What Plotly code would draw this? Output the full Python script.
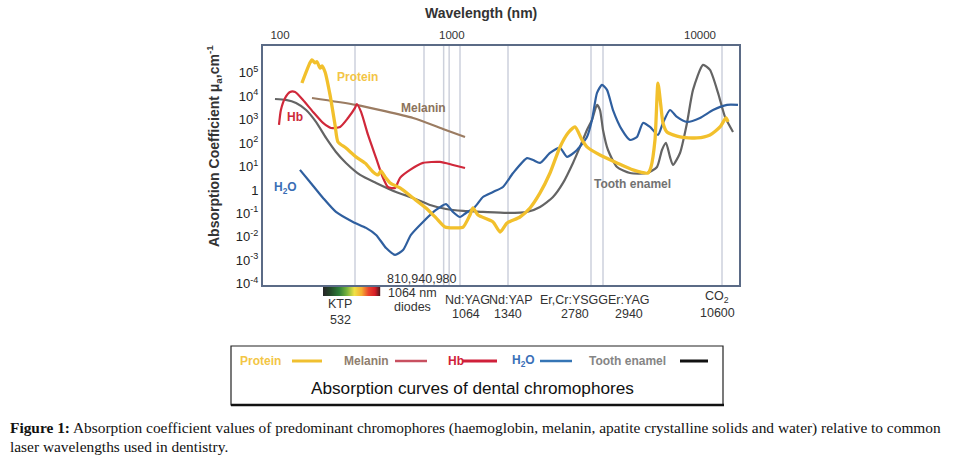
import numpy as np
import plotly.graph_objects as go

# ---- non-uniform wavelength scale of the original figure (nm -> axis units)
SCALE_WL = [70, 100, 532, 810, 1064, 1340, 2780, 2940, 10000, 10600, 12500]
SCALE_POS = [0, 17, 92, 161, 197, 245, 328, 340, 437, 459, 477]


def warp(wl):
    return np.interp(np.log10(np.asarray(wl, dtype=float)), np.log10(SCALE_WL), SCALE_POS)


# ---- data (wavelength nm, absorption coefficient cm^-1)
protein_wl = [163, 195, 204, 218, 228, 244, 255, 273, 305, 341, 364, 435, 535, 566, 594, 612, 623, 639,
              659, 700, 758, 822, 887, 950, 1032, 1080, 1116, 1132, 1160, 1247, 1290, 1334, 1489, 1626,
              1776, 1939, 2117, 2271, 2415, 2568, 2683, 2899, 3508, 4292, 5188, 5388, 5666, 5885, 6112,
              6267, 6592, 7769, 9627, 10268, 10544, 10996, 11199]
protein_val = [3.7e4, 2.7e5, 3.6e5, 2.7e5, 3.0e5, 1.6e5, 2.0e5, 1.1e5, 1.15e4, 600, 112, 62, 26, 14, 5.9,
               4.4, 6.5, 3.6, 2.0, 1.22, 0.455, 0.17, 0.064, 0.026, 0.024, 0.026, 0.085, 0.17, 0.085,
               0.043, 0.016, 0.039, 0.07, 0.17, 0.745, 5.3, 69, 273, 492, 137, 69, 31, 14.3, 7.2, 5.3,
               9.6, 137, 3.7e4, 3.5e3, 730, 301, 184, 167, 224, 492, 1190, 805]

hb_wl = [97.9, 102, 112, 125, 140, 167, 209, 261, 312, 381, 455, 532, 538, 552, 576, 605, 631, 650,
         679, 700, 744, 805, 914, 1009, 1090]
hb_val = [600, 2600, 8500, 1.54e4, 1.54e4, 7000, 2150, 730, 446, 492, 1190, 3200, 4700, 2150, 224, 23,
          3.3, 1.34, 1.22, 3.3, 7.2, 14.3, 15.7, 11.7, 8.7]

melanin_wl = [204, 535, 758, 935, 1090]
melanin_val = [8500, 4300, 1190, 405, 184]

enamel_wl = [90, 114, 143, 179, 223, 279, 348, 435, 549, 605, 683, 758, 848, 957, 1080, 1188, 1334,
             1584, 1776, 1990, 2174, 2373, 2523, 2683, 2793, 2859, 2899, 2940, 3131, 3508, 4133, 5124,
             5811, 6189, 6509, 6846, 7111, 7769, 8487, 9154, 10080, 10268, 10489, 10895, 11726]
enamel_val = [7700, 7000, 5200, 2600, 805, 167, 42, 14.3, 4.4, 2.0, 0.82, 0.455, 0.229, 0.154, 0.127,
              0.115, 0.104, 0.115, 0.188, 0.50, 2.0, 14.3, 69, 367, 980, 4300, 2600, 367, 51, 9.6, 5.3,
              5.3, 9.6, 51, 102, 25.7, 11.7, 38, 730, 1.88e4, 2.2e5, 1.34e5, 1.4e4, 1320, 301]

water_wl = [156, 195, 261, 348, 509, 569, 605, 643, 679, 713, 748, 805, 887, 957, 1009, 1064, 1095, 1143,
            1188, 1247, 1308, 1401, 1584, 1670, 1776, 1939, 2117, 2251, 2458, 2683, 2793, 2859, 2926,
            3092, 3335, 3736, 4133, 4514, 4870, 5321, 5885, 6267, 6846, 7478, 8487, 10000, 10351, 11097,
            12273]
water_val = [7.2, 2.2, 0.455, 0.115, 0.043, 0.024, 0.012, 0.0033, 0.0017, 0.0027, 0.012, 0.043, 0.14,
             0.25, 0.115, 0.07, 0.104, 0.188, 0.50, 0.82, 1.34, 5.3, 23, 19, 14.3, 38, 62, 26, 51, 184,
             980, 1.4e4, 3.07e4, 1.88e4, 2600, 367, 137, 184, 730, 492, 224, 730, 2600, 1320, 805, 1190,
             2600, 4300, 4300]

laser_wl = [532, 810, 940, 980, 1064, 1340, 2780, 2940, 10600]
top_ticks = [100, 1000, 10000]
y_ticks = [1e-4, 1e-3, 1e-2, 1e-1, 1, 1e1, 1e2, 1e3, 1e4, 1e5]
y_ticktext = ["10<sup>-4</sup>", "10<sup>-3</sup>", "10<sup>-2</sup>", "10<sup>-1</sup>", "1",
              "10<sup>1</sup>", "10<sup>2</sup>", "10<sup>3</sup>", "10<sup>4</sup>", "10<sup>5</sup>"]

# ---- layout geometry (canvas pixels)
W, H = 964, 472
L, R, T, B = 263, 739, 46, 285


def P(px, py):
    return (px - L) / (R - L), (B - py) / (B - T)


FONT = "Liberation Sans, Arial, sans-serif"
C_PROT, C_MEL, C_HB, C_H2O, C_ENA = "#f2c02c", "#9b7c62", "#d0283a", "#2f5f9f", "#646464"

fig = go.Figure()
series = [
    (melanin_wl, melanin_val, C_MEL, 2.2),
    (enamel_wl, enamel_val, C_ENA, 2.2),
    (water_wl, water_val, C_H2O, 2.2),
    (hb_wl, hb_val, C_HB, 2.2),
    (protein_wl, protein_val, C_PROT, 3.3),
]
for wl, val, col, w in series:
    fig.add_trace(go.Scatter(x=warp(wl), y=val, mode="lines",
                             line=dict(color=col, width=w, shape="spline", smoothing=0.6),
                             showlegend=False, hoverinfo="skip"))

shapes = []
for v in warp(laser_wl):
    shapes.append(dict(type="line", xref="x", yref="paper", x0=v, x1=v, y0=0, y1=1,
                       line=dict(color="#cdd1dc", width=1.5), layer="below"))

# spectrum colour bar under KTP
stops = [(0.0, (40, 40, 40)), (0.12, (35, 70, 40)), (0.28, (45, 125, 55)), (0.42, (120, 180, 60)),
         (0.55, (240, 225, 70)), (0.68, (245, 175, 50)), (0.8, (235, 70, 45)), (0.92, (215, 30, 40)),
         (1.0, (90, 25, 30))]


def grad(t):
    for (t0, c0), (t1, c1) in zip(stops[:-1], stops[1:]):
        if t0 <= t <= t1:
            f = (t - t0) / (t1 - t0)
            return "rgb(%d,%d,%d)" % tuple(round(a + (b - a) * f) for a, b in zip(c0, c1))
    return "rgb(90,25,30)"


gx0, gx1, gy0, gy1 = 323, 380, 287, 296
n = gx1 - gx0
for i in range(n):
    xa, ya = P(gx0 + i, gy1)
    xb, yb = P(gx0 + i + 1.2, gy0)
    shapes.append(dict(type="rect", xref="paper", yref="paper", x0=xa, x1=xb, y0=ya, y1=yb,
                       line=dict(width=0), fillcolor=grad(i / (n - 1))))

# legend box
bx0, by0 = P(231, 405)
bx1, by1 = P(723, 346)
shapes.append(dict(type="rect", xref="paper", yref="paper", x0=bx0, x1=bx1, y0=by0, y1=by1,
                   line=dict(color="#222", width=1.2), fillcolor="white"))
a0, a1 = P(231, 405)[0], P(724, 405)[0]
shapes.append(dict(type="line", xref="paper", yref="paper", x0=a0, x1=a1, y0=P(0, 405)[1], y1=P(0, 405)[1],
                   line=dict(color="#111", width=2.5)))
legend_items = [
    ("Protein", 238, "#f3c645", (292, 322), "#f0c030", 3),
    ("Melanin", 342, "#8f7e6e", (395, 427), "#c85060", 2.5),
    ("Hb", 446, "#d0203a", (462, 497), "#d0203a", 3),
    ("H<sub>2</sub>O", 510, "#3a70b8", (540, 572), "#3575b5", 2.5),
    ("Tooth enamel", 587, "#858585", (680, 708), "#111111", 3),
]
ann = []
ly = 361
for txt, tx, tc, (lx0, lx1), lc, lw in legend_items:
    x, y = P(tx, ly)
    ann.append(dict(text="<b>%s</b>" % txt, x=x, y=y, xref="paper", yref="paper", xanchor="left",
                    yanchor="middle", showarrow=False, font=dict(family=FONT, size=12, color=tc)))
    xa, yy = P(lx0, ly)
    xb, _ = P(lx1, ly)
    shapes.append(dict(type="line", xref="paper", yref="paper", x0=xa, x1=xb, y0=yy, y1=yy,
                       line=dict(color=lc, width=lw)))
x, y = P(472, 388)
ann.append(dict(text="Absorption curves of dental chromophores", x=x, y=y, xref="paper", yref="paper",
                xanchor="center", yanchor="middle",
                showarrow=False, font=dict(family=FONT, size=17.2, color="#111")))


def label(text, px, py, size=12.5, color="#333", xanchor="center", family=FONT, angle=0):
    x, y = P(px, py)
    ann.append(dict(text=text, x=x, y=y, xref="paper", yref="paper", xanchor=xanchor, yanchor="middle",
                    showarrow=False, textangle=angle, font=dict(family=family, size=size, color=color)))


# curve labels
label("<b>Protein</b>", 357, 77, 12, "#f3c545")
label("<b>Melanin</b>", 423, 108, 12, "#8c735c")
label("<b>Hb</b>", 295, 117, 12, "#cc2a3a")
label("<b>H<sub>2</sub>O</b>", 285, 188, 12, "#3a6eb5")
label("<b>Tooth enamel</b>", 632, 184, 12, "#727272")

# titles
label("<b>Wavelength (nm)</b>", 481, 13, 14, "#333")
label("<b>Absorption Coefficient \u03bc<sub>a</sub>,cm<sup>-1</sup></b>", 214, 146, 14, "#333", angle=-90)

# laser labels
label("810,940,980", 422, 279)
label("1064 nm", 412, 293)
label("diodes", 412, 307)
label("KTP", 340, 304)
label("532", 340, 320)
label("Nd:YAG", 467, 300)
label("1064", 466, 314)
label("Nd:YAP", 511, 300)
label("1340", 508, 314)
label("Er,Cr:YSGG", 574, 300)
label("2780", 575, 314)
label("Er:YAG", 628, 300)
label("2940", 629, 314)
label("CO<sub>2</sub>", 717, 297)
label("10600", 717, 313)

# caption
SERIF = "Liberation Serif, Times New Roman, serif"
label("<b>Figure 1:</b> Absorption coefficient values of predominant chromophores (haemoglobin, melanin, "
      "apatite crystalline solids and water) relative to common", 8, 428, 15.4, "#111", "left", SERIF)
label("laser wavelengths used in dentistry.", 8, 446, 15.4, "#111", "left", SERIF)

fig.update_layout(
    width=W, height=H, margin=dict(l=L, r=W - R, t=T, b=H - B, pad=0),
    paper_bgcolor="white", plot_bgcolor="white", showlegend=False,
    shapes=shapes, annotations=ann,
    xaxis=dict(range=[0, R - L], side="top", tickvals=list(warp(top_ticks)),
               ticktext=[str(t) for t in top_ticks], ticks="", showgrid=False, zeroline=False,
               showline=True, mirror=True, linecolor="#5b6b86", linewidth=2,
               tickfont=dict(family=FONT, size=11.5, color="#333")),
    yaxis=dict(type="log", range=[-4.06, 6.15], tickvals=y_ticks, ticktext=y_ticktext, ticks="",
               showgrid=False, zeroline=False, showline=True, mirror=True, linecolor="#5b6b86",
               linewidth=2, tickfont=dict(family=FONT, size=13, color="#222")),
)

fig.write_html("out.html", config=dict(displayModeBar=False),
               post_script="document.body.style.margin='0';document.body.style.overflow='hidden';")
